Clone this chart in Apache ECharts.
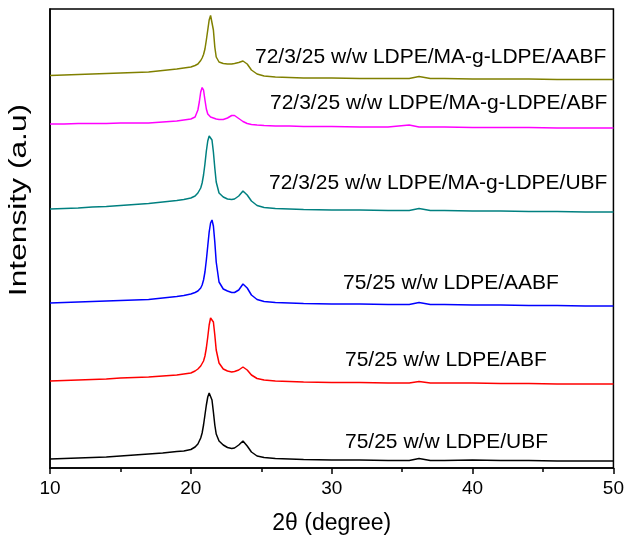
<!DOCTYPE html>
<html>
<head>
<meta charset="utf-8">
<script src="https://cdn.jsdelivr.net/npm/echarts@6/dist/echarts.min.js"></script>
<style>
  html, body { margin: 0; padding: 0; background: #fff; }
  #chart { width: 627px; height: 540px; }
</style>
</head>
<body>
<div id="chart"></div>
<script>
// Diffraction angle grid (2θ, degrees), shared by all patterns
const twoTheta = [10, 11, 12, 13, 14, 15, 16, 17, 18, 19, 19.5, 20, 20.3, 20.5, 20.6, 20.7, 20.8, 20.9,
  21.0, 21.1, 21.2, 21.3, 21.4, 21.5, 21.6, 21.7, 21.8, 22.0, 22.3, 22.6, 22.9, 23.1, 23.4, 23.7,
  24.0, 24.3, 24.7, 25.2, 26, 27, 28, 30, 32, 34, 35.5, 36.2, 37, 38, 40, 42, 44, 46, 48, 50];

// Stacked intensities (a.u.), each pattern already shifted vertically
const ldpeUBF = [9, 9.5, 10, 10.5, 11, 12, 13, 14, 15, 16.5, 17, 18.5, 21, 24, 26, 30, 35, 43,
  53, 63, 71, 75, 74, 68, 56, 43, 34, 27, 23, 20.5, 19.5, 20, 23, 27,
  22, 16, 12, 10.5, 9.5, 9, 8.5, 8, 8, 7.5, 7.5, 9.5, 7.5, 7.5, 8, 7.5, 7.5, 7, 7, 7];

const ldpeABF = [87, 87.5, 88, 88.5, 89, 90, 90.5, 91, 92, 93, 94, 95, 97, 99, 100, 102, 104, 107,
  112, 120, 131, 143, 150, 152, 146, 133, 118, 105, 99, 97, 96, 96.5, 98, 101,
  98, 93, 89.5, 88, 87, 86.5, 86, 85.5, 85.5, 85, 85, 86.5, 85, 85, 85, 84.5, 84.5, 84, 84, 84];

const ldpeAABF = [165, 165.5, 166, 166.5, 167, 167.5, 168, 168.5, 170, 171.5, 172.5, 174, 175.5, 177, 178, 180, 183, 188,
  196, 208, 222, 236, 245, 248, 242, 226, 206, 186, 179, 177, 175.5, 175.5, 178, 184,
  180, 173, 168.5, 166.5, 165.5, 165, 164.5, 164, 164, 163.5, 163.5, 165.5, 163.5, 163.5, 163, 163, 162.5, 162.5, 162, 162];

const maUBF = [259, 259.5, 260, 261, 261.5, 262.5, 263.5, 264.5, 266, 267.5, 268.5, 270, 272, 275, 277, 280, 285, 293,
  304, 317, 327, 332, 333, 328, 316, 300, 286, 275, 271, 269, 268.5, 269, 272, 277,
  273, 267, 262.5, 260.5, 259.5, 259, 258.5, 258, 258, 257.5, 257.5, 259.5, 257.5, 257.5, 257, 257, 256.5, 256.5, 256, 256];

const maABF = [344, 344, 344.5, 344.5, 344.5, 345, 345, 345, 346, 347, 348, 349, 351, 358, 366, 376, 380.5, 378,
  368, 359, 354, 352, 351, 350.5, 350, 349.5, 349, 348.5, 348.5, 350, 352.5, 352.5, 349.5, 346.5,
  344.5, 343.5, 343, 342.5, 342, 342, 341.5, 341.5, 341, 341, 343, 341, 341, 341, 340.5, 340.5, 340.5, 340, 340, 340];

const maAABF = [392.5, 393, 393.5, 394, 394.5, 395, 395.5, 396, 397.5, 399, 400, 401, 402.5, 404, 405.5, 407.5, 410, 413.5,
  419, 428, 438, 448, 452.5, 452, 438, 421, 411, 406, 404.5, 404, 404, 404.5, 405.5, 407,
  404, 398, 394, 392, 391, 390.5, 390, 390, 389.5, 389.5, 389.5, 391.5, 389.5, 389.5, 389, 389, 389, 388.5, 388.5, 388.5];

const sampleNames = [
  '75/25 w/w LDPE/UBF',
  '75/25 w/w LDPE/ABF',
  '75/25 w/w LDPE/AABF',
  '72/3/25 w/w LDPE/MA-g-LDPE/UBF',
  '72/3/25 w/w LDPE/MA-g-LDPE/ABF',
  '72/3/25 w/w LDPE/MA-g-LDPE/AABF'
];
const sampleValues = [ldpeUBF, ldpeABF, ldpeAABF, maUBF, maABF, maAABF];
const sampleColors = ['#000000', '#ff0000', '#0000ff', '#008080', '#ff00ff', '#808000'];

// label placement for each curve (left edge x, vertical centre y) in pixels
const labelPos = [[345, 442], [345, 360], [343, 283], [269, 183], [270, 103], [255, 57]];

const chart = echarts.init(document.getElementById('chart'), null, { renderer: 'canvas' });
const font = 'Arial, "Liberation Sans", sans-serif';

chart.setOption({
  animation: false,
  backgroundColor: '#fff',
  grid: {
    left: 50, right: 13, top: 9, bottom: 72,
    show: true, borderColor: '#000', borderWidth: 1.5, backgroundColor: 'transparent'
  },
  xAxis: {
    type: 'value', min: 10, max: 50, interval: 10,
    axisLine: { show: true, lineStyle: { color: '#000', width: 1.5 } },
    axisTick: { show: true, inside: false, length: 6, lineStyle: { color: '#000', width: 1.5 } },
    minorTick: { show: true, splitNumber: 2, length: 4, lineStyle: { color: '#000', width: 1.5 } },
    splitLine: { show: false },
    axisLabel: { color: '#000', fontSize: 19, fontFamily: font, margin: 11 },
    name: '2θ (degree)', nameLocation: 'middle', nameGap: 44,
    nameTextStyle: { color: '#000', fontSize: 23, fontFamily: font }
  },
  yAxis: {
    type: 'value', min: 0, max: 459,
    axisLine: { show: true, lineStyle: { color: '#000', width: 1.5 } },
    axisTick: { show: false }, axisLabel: { show: false }, splitLine: { show: false }
  },
  series: sampleValues.map((vals, i) => ({
    name: sampleNames[i],
    type: 'line',
    showSymbol: false,
    silent: true,
    lineStyle: { color: sampleColors[i], width: 1.5 },
    data: twoTheta.map((t, j) => [t, vals[j]])
  })),
  graphic: sampleNames.map((name, i) => ({
    type: 'text', x: labelPos[i][0], y: labelPos[i][1],
    style: { text: name, fill: '#000', font: '21px ' + font, textVerticalAlign: 'middle' }
  })).concat([{
    // vertical axis title, widened along its reading direction
    type: 'text', x: 20, y: 200, rotation: Math.PI / 2, scaleX: 1.38, scaleY: 1,
    style: { text: 'Intensity (a.u)', fill: '#000', font: '23px ' + font, textAlign: 'center', textVerticalAlign: 'middle' }
  }])
});
</script>
</body>
</html>
